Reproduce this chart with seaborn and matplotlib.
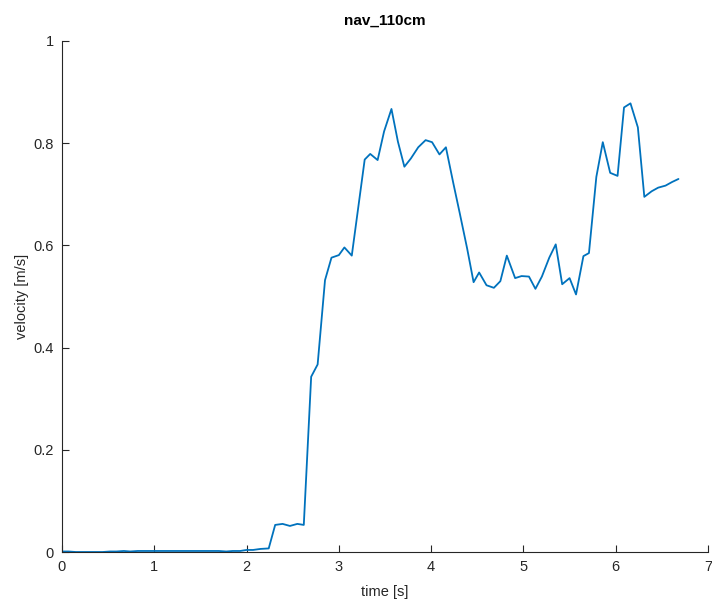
import matplotlib
matplotlib.use("Agg")
import matplotlib.pyplot as plt
import numpy as np
import pandas as pd
import seaborn as sns

# Measured velocity over time
time_s = [
    0.00, 0.07, 0.15, 0.22, 0.30, 0.37, 0.44, 0.52, 0.59, 0.67,
    0.74, 0.82, 0.89, 0.96, 1.04, 1.11, 1.19, 1.26, 1.33, 1.41,
    1.48, 1.56, 1.63, 1.70, 1.78, 1.85, 1.93, 2.00, 2.07, 2.15,
    2.24, 2.31, 2.39, 2.47, 2.55, 2.62, 2.70, 2.77, 2.85, 2.92,
    3.00, 3.06, 3.14, 3.28, 3.34, 3.42, 3.49, 3.57, 3.64, 3.71,
    3.78, 3.86, 3.94, 4.01, 4.09, 4.16, 4.24, 4.31, 4.39, 4.46,
    4.52, 4.60, 4.68, 4.75, 4.82, 4.91, 4.98, 5.06, 5.13, 5.20,
    5.28, 5.35, 5.42, 5.50, 5.57, 5.65, 5.71, 5.79, 5.86, 5.94,
    6.02, 6.09, 6.16, 6.24, 6.31, 6.39, 6.46, 6.54, 6.61, 6.68,
]
velocity = [
    0.001, 0.001, 0.000, 0.000, 0.000, 0.000, 0.000, 0.001, 0.001, 0.002,
    0.001, 0.002, 0.002, 0.002, 0.002, 0.002, 0.002, 0.002, 0.002, 0.002,
    0.002, 0.002, 0.002, 0.002, 0.001, 0.002, 0.002, 0.004, 0.004, 0.006,
    0.007, 0.053, 0.055, 0.051, 0.055, 0.053, 0.343, 0.367, 0.532, 0.576,
    0.581, 0.596, 0.580, 0.768, 0.779, 0.767, 0.823, 0.867, 0.803, 0.754,
    0.770, 0.792, 0.806, 0.802, 0.778, 0.792, 0.722, 0.663, 0.594, 0.528,
    0.547, 0.522, 0.517, 0.530, 0.580, 0.536, 0.540, 0.539, 0.515, 0.539,
    0.576, 0.602, 0.524, 0.536, 0.504, 0.579, 0.585, 0.734, 0.802, 0.742,
    0.736, 0.870, 0.878, 0.831, 0.695, 0.706, 0.713, 0.717, 0.724, 0.730,
]

x_ticks = [0, 1, 2, 3, 4, 5, 6, 7]
y_ticks = [0, 0.2, 0.4, 0.6, 0.8, 1.0]
y_tick_labels = ["0", "0.2", "0.4", "0.6", "0.8", "1"]

sns.set_style("ticks")
plt.rcParams["font.family"] = ["Liberation Sans", "DejaVu Sans"]
axis_color = "#262626"
plt.rcParams.update({
    "xtick.direction": "in",
    "ytick.direction": "in",
    "xtick.major.size": 5,
    "ytick.major.size": 5,
    "xtick.major.width": 0.8,
    "ytick.major.width": 0.8,
    "xtick.color": axis_color,
    "ytick.color": axis_color,
    "axes.edgecolor": axis_color,
    "axes.linewidth": 0.8,
})

df = pd.DataFrame({"time": time_s, "velocity": velocity})

fig = plt.figure(figsize=(7.12, 6.03), dpi=100)
ax = fig.add_axes([62 / 712, 1 - 552 / 603, 646 / 712, 511 / 603])

sns.lineplot(data=df, x="time", y="velocity", ax=ax, color="#0072BD",
             linewidth=1.3, estimator=None, sort=False)

ax.set_xlim(0, 7)
ax.set_ylim(0, 1)
ax.set_xticks(x_ticks)
ax.set_xticklabels([str(t) for t in x_ticks])
ax.set_yticks(y_ticks)
ax.set_yticklabels(y_tick_labels)
ax.tick_params(labelsize=10.5, labelcolor=axis_color, pad=6)
sns.despine(ax=ax)

ax.set_xlabel("time [s]", fontsize=10.5, color=axis_color, labelpad=8)
ax.set_ylabel("velocity [m/s]", fontsize=10.5, color=axis_color, labelpad=3)
ax.set_title("nav_110cm", fontsize=11, fontweight="bold", color="black", pad=12)

fig.savefig("out.png", dpi=100)
